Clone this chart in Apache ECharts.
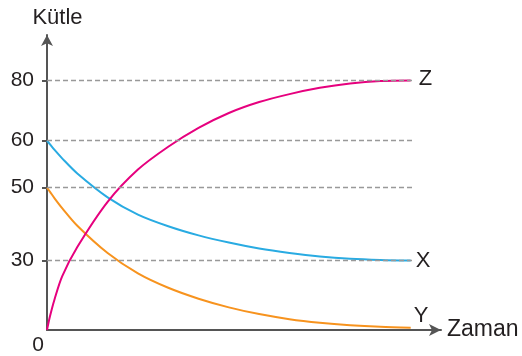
<!DOCTYPE html>
<html>
<head>
<meta charset="utf-8">
<script src="https://cdn.jsdelivr.net/npm/echarts@6/dist/echarts.min.js"></script>
<style>
html, body { margin: 0; padding: 0; background: #fff; }
#main { width: 522px; height: 356px; }
</style>
</head>
<body>
<div id="main"></div>
<script>
// time samples (arbitrary units) and mass of each substance
var times = [0, 0.1, 0.25, 0.5, 1, 2, 3, 4, 5, 6, 7, 8, 9, 10, 11, 12];
var massX = [60, 59.22, 58.03, 56.24, 53.02, 47.35, 42.61, 39.41, 36.90, 34.91, 33.27, 32.05, 31.09, 30.46, 30.14, 30];
var massY = [50, 48.85, 47.08, 44.38, 39.55, 32.05, 24.43, 18.21, 13.50, 9.77, 6.86, 4.67, 3.13, 2.06, 1.37, 0.99];
var massZ = [0, 6.0, 13.29, 23.14, 33.68, 46.10, 53.85, 58.71, 64.25, 69.19, 72.82, 75.45, 77.53, 78.98, 79.80, 80];
var yTicks = [30, 50, 60, 80];
var seriesNames = ['X', 'Y', 'Z'];

// the mass axis of the drawing is not linear: piecewise scale
var scaleMass = [0, 30, 50, 60, 80];
var scalePos = [0, 70, 143.3, 190.6, 251.3];
function toPos(m) {
	for (var i = 1; i < scaleMass.length; i++) {
		if (m <= scaleMass[i]) {
			var f = (m - scaleMass[i - 1]) / (scaleMass[i] - scaleMass[i - 1]);
			return scalePos[i - 1] + f * (scalePos[i] - scalePos[i - 1]);
		}
	}
	return scalePos[scalePos.length - 1];
}
function pairs(arr) {
	var out = [];
	for (var i = 0; i < times.length; i++) {
		out.push([times[i], toPos(arr[i])]);
	}
	return out;
}

var txt = '#231f20';
var font = 'Liberation Sans, Arial, sans-serif';
var gridEnd = 12.08;

var gridLines = [];
for (var i = 0; i < yTicks.length; i++) {
	gridLines.push([{ coord: [0, toPos(yTicks[i])] }, { coord: [gridEnd, toPos(yTicks[i])] }]);
}
var tickPos = yTicks.map(toPos);

function lineSeries(name, arr, color, offset) {
	return {
		name: name,
		type: 'line',
		data: pairs(arr),
		smooth: 0.3,
		showSymbol: false,
		lineStyle: { color: color, width: 2 },
		endLabel: {
			show: true,
			formatter: name,
			color: txt,
			fontSize: 22,
			fontFamily: font,
			distance: 5,
			offset: offset
		},
		z: 3
	};
}

var myChart = echarts.init(document.getElementById('main'));
var option = {
	animation: false,
	grid: { left: 47, right: 81, top: 35, bottom: 24 },
	xAxis: {
		type: 'value',
		min: 0,
		max: 13,
		name: 'Zaman',
		nameLocation: 'end',
		nameGap: 6,
		nameTextStyle: { color: txt, fontSize: 23, fontFamily: font },
		axisLine: {
			symbol: ['none', 'arrow'],
			symbolSize: [9, 12],
			lineStyle: { color: '#555', width: 2 }
		},
		axisTick: { show: false },
		splitLine: { show: false },
		axisLabel: {
			customValues: [0],
			formatter: function() { return '0'; },
			color: txt,
			fontSize: 21,
			fontFamily: font,
			align: 'right',
			padding: [0, 3, 0, 0],
			margin: 5
		}
	},
	yAxis: {
		type: 'value',
		min: 0,
		max: 297,
		name: 'Kütle',
		nameLocation: 'end',
		nameGap: 6,
		nameTextStyle: { color: txt, fontSize: 22, fontFamily: font, align: 'center', padding: [0, 0, 0, 21] },
		axisLine: {
			symbol: ['none', 'arrow'],
			symbolSize: [9, 11],
			lineStyle: { color: '#555', width: 2 }
		},
		axisTick: {
			customValues: tickPos,
			length: 5,
			lineStyle: { color: '#555', width: 2 }
		},
		splitLine: { show: false },
		axisLabel: {
			customValues: tickPos,
			formatter: function(v) {
				for (var j = 0; j < tickPos.length; j++) {
					if (Math.abs(tickPos[j] - v) < 0.01) return String(yTicks[j]);
				}
				return '';
			},
			color: txt,
			fontSize: 21,
			fontFamily: font,
			margin: 13
		}
	},
	series: [
		{
			name: 'grid',
			type: 'line',
			data: [],
			silent: true,
			markLine: {
				silent: true,
				symbol: ['none', 'none'],
				label: { show: false },
				lineStyle: { color: '#999', width: 1.3, type: [5, 3] },
				data: gridLines
			},
			z: 1
		},
		lineSeries(seriesNames[0], massX, '#29abe2', [0, 0]),
		lineSeries(seriesNames[1], massY, '#f7931e', [-2, -12]),
		lineSeries(seriesNames[2], massZ, '#e6007e', [3, -1])
	]
};
myChart.setOption(option);
</script>
</body>
</html>
